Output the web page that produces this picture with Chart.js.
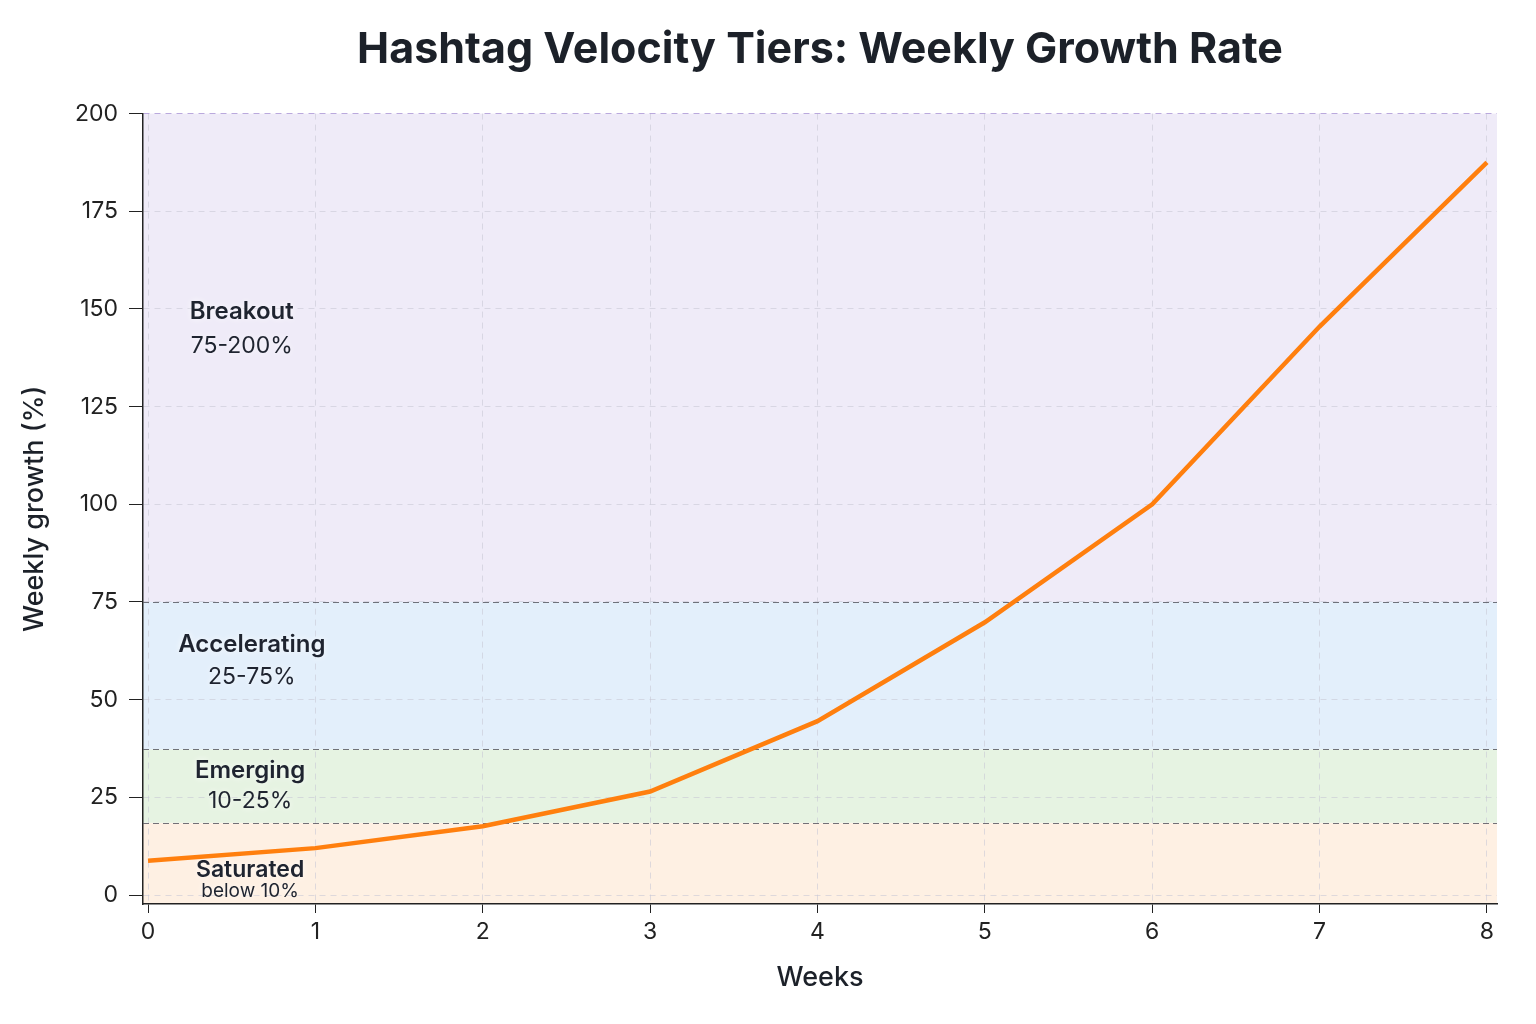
<!DOCTYPE html>
<html>
<head>
<meta charset="utf-8">
<script src="https://cdn.jsdelivr.net/npm/chart.js@4.4.1/dist/chart.umd.min.js"></script>
<style>
  html, body { margin: 0; padding: 0; background: #ffffff; }
  #wrap { width: 1536px; height: 1024px; }
</style>
</head>
<body>
<div id="wrap"><canvas id="chart" width="1536" height="1024"></canvas></div>
<script>
// Data
const weeks = [0, 1, 2, 3, 4, 5, 6, 7, 8];
const growth = [8.8, 12.0, 17.6, 26.5, 44.5, 69.8, 100.0, 145.5, 187.5];
const xTicks = [0, 1, 2, 3, 4, 5, 6, 7, 8];
const yTicks = [0, 25, 50, 75, 100, 125, 150, 175, 200];

// Tier bands (drawn edges) and their labels
const tierNames = ['Saturated', 'Emerging', 'Accelerating', 'Breakout'];
const tierRanges = ['below 10%', '10-25%', '25-75%', '75-200%'];
const tierLow = [-2.3, 18.5, 37.3, 75];
const tierHigh = [18.5, 37.3, 75, 200];
const tierColors = ['#fef0e3', '#e6f3e2', '#e3effb', '#efebf8'];
const tierLabelX = [0.61, 0.61, 0.62, 0.56];
const tierLabelY = [6.4, 31.8, 64, 149.3];
const tierSubY = [1.0, 24, 55.8, 140.6];

const FONT = 'Inter, "Noto Sans", sans-serif';

const tierPlugin = {
    id: 'tiers',
    beforeDraw(chart) {
        const { ctx, chartArea, scales } = chart;
        ctx.save();
        tierColors.forEach((c, i) => {
            const yTop = scales.y.getPixelForValue(tierHigh[i]);
            const yBot = scales.y.getPixelForValue(tierLow[i]);
            ctx.fillStyle = c;
            ctx.fillRect(chartArea.left, yTop, chartArea.right - chartArea.left, yBot - yTop);
        });
        ctx.restore();
    },
    beforeDatasetsDraw(chart) {
        const { ctx, chartArea, scales } = chart;
        ctx.save();
        // boundaries between tiers
        ctx.strokeStyle = 'rgba(90,90,100,0.85)';
        ctx.lineWidth = 1.2;
        ctx.setLineDash([6, 4]);
        tierHigh.slice(0, 3).forEach(v => {
            const y = Math.round(scales.y.getPixelForValue(v)) + 0.5;
            ctx.beginPath();
            ctx.moveTo(chartArea.left, y);
            ctx.lineTo(chartArea.right, y);
            ctx.stroke();
        });
        ctx.setLineDash([]);
        // labels
        ctx.textAlign = 'center';
        ctx.textBaseline = 'middle';
        ctx.fillStyle = '#1f2430';
        ctx.shadowColor = 'rgba(255,255,255,0.9)';
        ctx.shadowBlur = 6;
        tierNames.forEach((name, i) => {
            const x = scales.x.getPixelForValue(tierLabelX[i]);
            ctx.font = '600 ' + (i === 0 ? 23 : 24) + 'px ' + FONT;
            ctx.fillText(name, x, scales.y.getPixelForValue(tierLabelY[i]));
            ctx.font = '400 ' + (i === 0 ? 19 : 23) + 'px ' + FONT;
            ctx.fillText(tierRanges[i], x, scales.y.getPixelForValue(tierSubY[i]));
        });
        ctx.restore();
    }
};

const ctx = document.getElementById('chart').getContext('2d');
new Chart(ctx, {
    type: 'line',
    data: {
        datasets: [{
            label: 'Weekly growth',
            data: weeks.map((w, i) => ({ x: w, y: growth[i] })),
            borderColor: '#ff7f0e',
            borderWidth: 4.5,
            pointRadius: 0,
            tension: 0,
            fill: false
        }]
    },
    options: {
        responsive: false,
        animation: false,
        layout: { padding: { top: 0, right: 39, bottom: 30, left: 0 } },
        plugins: {
            legend: { display: false },
            tooltip: { enabled: false },
            title: {
                display: true,
                fullSize: false,
                text: 'Hashtag Velocity Tiers: Weekly Growth Rate',
                color: '#1c2129',
                font: { family: FONT, size: 43, weight: '700' },
                padding: { top: 24, bottom: 38 }
            }
        },
        scales: {
            x: {
                type: 'linear',
                min: -0.03,
                max: 8.06,
                afterBuildTicks: s => { s.ticks = xTicks.map(v => ({ value: v })); },
                afterFit: s => { s.height = 90; },
                ticks: {
                    color: '#222',
                    font: { family: FONT, size: 23 },
                    padding: 5
                },
                grid: {
                    color: 'rgba(200,200,214,0.6)',
                    tickColor: '#222',
                    tickLength: 9,
                    tickBorderDash: []
                },
                border: { display: true, color: '#222', width: 1.5, dash: [6, 5] },
                title: {
                    display: true,
                    text: 'Weeks',
                    color: '#1c2129',
                    font: { family: FONT, size: 27, weight: '500' },
                    padding: { top: 0, bottom: 0 }
                }
            },
            y: {
                type: 'linear',
                min: -2.3,
                max: 200,
                afterBuildTicks: s => { s.ticks = yTicks.map(v => ({ value: v })); },
                afterFit: s => { s.width = 143; },
                ticks: {
                    color: '#222',
                    font: { family: FONT, size: 23 },
                    padding: 11
                },
                grid: {
                    color: ctx => ctx.tick && ctx.tick.value === 200 ? 'rgba(175,155,215,0.85)' : 'rgba(200,200,214,0.6)',
                    tickColor: '#222',
                    tickLength: 14,
                    tickBorderDash: []
                },
                border: { display: true, color: '#222', width: 1.5, dash: [6, 5] },
                title: {
                    display: true,
                    text: 'Weekly growth (%)',
                    color: '#1c2129',
                    font: { family: FONT, size: 27, weight: '500' },
                    padding: { top: 19, bottom: 0 }
                }
            }
        }
    },
    plugins: [tierPlugin]
});
</script>
</body>
</html>
